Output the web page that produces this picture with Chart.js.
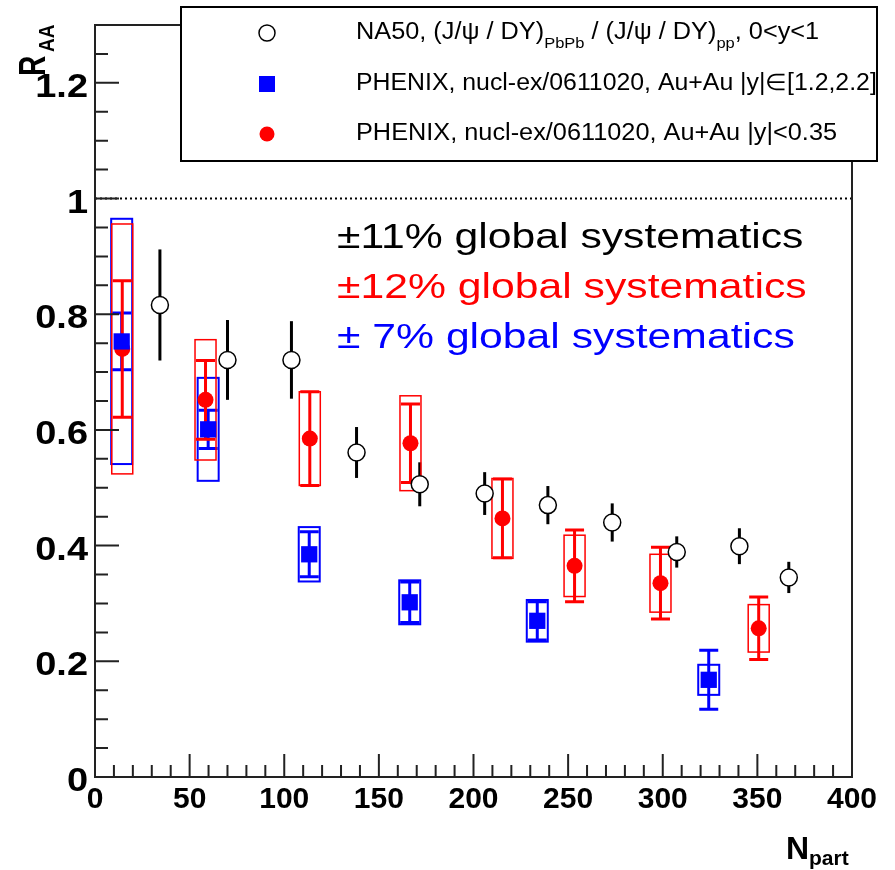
<!DOCTYPE html>
<html>
<head>
<meta charset="utf-8">
<script src="https://cdn.jsdelivr.net/npm/chart.js@4.4.0/dist/chart.umd.min.js"></script>
<style>
  html, body { margin: 0; padding: 0; background: #fff; }
</style>
</head>
<body>
<canvas id="raaChart" width="895" height="870"></canvas>
<script>
// NA50 (J/psi / DY) PbPb / pp, 0<y<1 -- open black circles
var na50Npart = [34.3, 70.0, 103.8, 138.2, 171.6, 205.9, 239.3, 273.3, 307.4, 340.5, 366.6];
var na50Raa = [0.816, 0.721, 0.721, 0.561, 0.506, 0.490, 0.470, 0.440, 0.389, 0.399, 0.345];
var na50Err = [0.096, 0.069, 0.067, 0.044, 0.038, 0.037, 0.033, 0.033, 0.027, 0.031, 0.027];

// PHENIX Au+Au |y| in [1.2,2.2] -- blue squares
var fwdNpart = [14.1, 59.8, 113.2, 166.3, 233.7, 324.3];
var fwdRaa = [0.753, 0.601, 0.385, 0.302, 0.270, 0.168];
var fwdStat = [0.049, 0.033, 0.039, 0.035, 0.033, 0.051];
var fwdSys = [0.212, 0.089, 0.047, 0.038, 0.036, 0.026];

// PHENIX Au+Au |y|<0.35 -- red circles
var midNpart = [14.4, 58.4, 113.5, 166.7, 215.3, 253.4, 298.8, 350.7];
var midRaa = [0.740, 0.652, 0.585, 0.577, 0.447, 0.365, 0.335, 0.257];
var midStat = [0.118, 0.068, 0.081, 0.068, 0.068, 0.062, 0.062, 0.054];
var midSys = [0.216, 0.104, 0.081, 0.082, 0.069, 0.053, 0.050, 0.041];

var xTickLabels = ['0', '50', '100', '150', '200', '250', '300', '350', '400'];
var yTickLabels = ['0', '0.2', '0.4', '0.6', '0.8', '1', '1.2'];

var globalSysLabels = ['\u00b111% global systematics', '\u00b112% global systematics', '\u00b1 7% global systematics'];
var globalSysColors = ['#000000', '#ff0000', '#0000ff'];

var FONT = '"Liberation Sans", Arial, Helvetica, sans-serif';
Chart.defaults.font.family = FONT;

function toPoints(xs, ys) {
    return xs.map(function (x, i) { return { x: x, y: ys[i] }; });
}

// legend rows: pieces of text, sub = subscript
var legendRows = [
    { color: '#000000', marker: 'open', sx: 1.1, parts: [
        { t: 'NA50, (J/\u03c8 / DY)' }, { t: 'PbPb', sub: true },
        { t: ' / (J/\u03c8 / DY)' }, { t: 'pp', sub: true }, { t: ', 0<y<1' }] },
    { color: '#0000ff', marker: 'square', sx: 1.08, parts: [{ t: 'PHENIX, nucl-ex/0611020, Au+Au |y|\u2208[1.2,2.2]' }] },
    { color: '#ff0000', marker: 'dot', sx: 1.1, parts: [{ t: 'PHENIX, nucl-ex/0611020, Au+Au |y|<0.35' }] }
];

function drawRich(ctx, parts, x, y, size, subSize, subDrop, scaleX) {
    ctx.save();
    ctx.translate(x, y);
    ctx.scale(scaleX, 1);
    ctx.textBaseline = 'alphabetic';
    var cx = 0;
    parts.forEach(function (p) {
        ctx.font = (p.sub ? subSize : size) + 'px ' + FONT;
        ctx.fillText(p.t, cx, p.sub ? subDrop : 0);
        cx += ctx.measureText(p.t).width;
    });
    ctx.restore();
}

// systematic boxes + stat error bars, drawn under the markers
var errorBars = {
    id: 'errorBars',
    beforeDatasetsDraw: function (chart) {
        var ctx = chart.ctx, xs = chart.scales.x, ys = chart.scales.y, area = chart.chartArea;

        // dotted line at R_AA = 1
        ctx.save();
        ctx.strokeStyle = '#000';
        ctx.lineWidth = 2;
        ctx.setLineDash([2, 3]);
        var y1 = ys.getPixelForValue(1);
        ctx.beginPath();
        ctx.moveTo(area.left, y1);
        ctx.lineTo(area.right, y1);
        ctx.stroke();
        ctx.restore();

        chart.data.datasets.forEach(function (ds) {
            ds.data.forEach(function (p, i) {
                var px = xs.getPixelForValue(p.x);
                ctx.save();
                ctx.strokeStyle = ds.borderColor;
                if (ds.sysErr) {
                    var top = ys.getPixelForValue(p.y + ds.sysErr[i]);
                    var bot = ys.getPixelForValue(p.y - ds.sysErr[i]);
                    ctx.lineWidth = ds.boxWidth;
                    ctx.strokeRect(px - 10.5, top, 21, bot - top);
                }
                var t = ys.getPixelForValue(p.y + ds.statErr[i]);
                var b = ys.getPixelForValue(p.y - ds.statErr[i]);
                ctx.lineWidth = 3;
                ctx.beginPath();
                ctx.moveTo(px, t);
                ctx.lineTo(px, b);
                if (ds.caps) {
                    ctx.moveTo(px - 9.5, t); ctx.lineTo(px + 9.5, t);
                    ctx.moveTo(px - 9.5, b); ctx.lineTo(px + 9.5, b);
                }
                ctx.stroke();
                ctx.restore();
            });
        });
    },
    afterDraw: function (chart) {
        var ctx = chart.ctx, xs = chart.scales.x, ys = chart.scales.y, area = chart.chartArea;
        ctx.save();

        // frame
        ctx.strokeStyle = '#222';
        ctx.lineWidth = 2;
        ctx.strokeRect(area.left, area.top, area.right - area.left, area.bottom - area.top);

        // inner ticks
        ctx.beginPath();
        for (var k = 0; k <= 26; k++) {
            var py = ys.getPixelForValue(k * 0.05);
            ctx.moveTo(area.left, py);
            ctx.lineTo(area.left + (k % 4 === 0 ? 24 : 13), py);
        }
        for (var j = 0; j <= 40; j++) {
            var px = xs.getPixelForValue(j * 10);
            ctx.moveTo(px, area.bottom);
            ctx.lineTo(px, area.bottom - (j % 5 === 0 ? 23 : 12));
        }
        ctx.stroke();

        // y tick labels, from the scale's own ticks
        ctx.fillStyle = '#000';
        ctx.textAlign = 'right';
        ys.ticks.forEach(function (tk, i) {
            var py = ys.getPixelForValue(tk.value);
            ctx.save();
            ctx.translate(area.left - 7, py + 14);
            ctx.scale(1.15, 1);
            ctx.font = 'bold 33px ' + FONT;
            ctx.fillText(yTickLabels[i], 0, 0);
            ctx.restore();
        });
        ctx.textAlign = 'left';

        // legend box
        ctx.fillStyle = '#fff';
        ctx.fillRect(181, 7, 696, 154);
        ctx.strokeStyle = '#000';
        ctx.lineWidth = 2;
        ctx.strokeRect(181, 7, 696, 154);

        var rowY = [33, 84, 134];
        legendRows.forEach(function (row, r) {
            var cy = rowY[r];
            ctx.fillStyle = row.color;
            ctx.strokeStyle = row.color;
            if (row.marker === 'open') {
                ctx.fillStyle = '#fff';
                ctx.lineWidth = 1.5;
                ctx.beginPath();
                ctx.arc(267, cy, 8, 0, Math.PI * 2);
                ctx.fill();
                ctx.stroke();
            } else if (row.marker === 'square') {
                ctx.fillRect(259, cy - 8, 16, 16);
            } else {
                ctx.beginPath();
                ctx.arc(267, cy, 7.5, 0, Math.PI * 2);
                ctx.fill();
            }
            ctx.fillStyle = '#000';
            drawRich(ctx, row.parts, 356, cy + 6, 23, 15, 9, row.sx);
        });

        // global systematics notes
        globalSysLabels.forEach(function (txt, i) {
            ctx.fillStyle = globalSysColors[i];
            drawRich(ctx, [{ t: txt }], 337, 248 + i * 50, 35, 20, 0, 1.22);
        });

        // axis titles
        ctx.fillStyle = '#000';
        ctx.save();
        ctx.translate(45, 76);
        ctx.rotate(-Math.PI / 2);
        ctx.scale(1, 1.3);
        ctx.font = 'bold 28px ' + FONT;
        ctx.fillText('R', 0, 0);
        ctx.restore();
        ctx.save();
        ctx.translate(54, 52);
        ctx.rotate(-Math.PI / 2);
        ctx.scale(1, 1.2);
        ctx.font = 'bold 19px ' + FONT;
        ctx.fillText('AA', 0, 0);
        ctx.restore();

        ctx.font = 'bold 32px ' + FONT;
        ctx.fillText('N', 786, 859);
        ctx.font = 'bold 21px ' + FONT;
        ctx.fillText('part', 809, 865);

        ctx.restore();
    }
};

var ctxRaa = document.getElementById('raaChart').getContext('2d');
var raaChart = new Chart(ctxRaa, {
    type: 'scatter',
    data: {
        datasets: [{
            label: 'NA50',
            data: toPoints(na50Npart, na50Raa),
            statErr: na50Err,
            caps: false,
            pointStyle: 'circle',
            pointRadius: 8.5,
            pointBorderWidth: 1.5,
            borderColor: '#000000',
            backgroundColor: '#ffffff'
        }, {
            label: 'PHENIX |y| in [1.2,2.2]',
            data: toPoints(fwdNpart, fwdRaa),
            statErr: fwdStat,
            sysErr: fwdSys,
            boxWidth: 2,
            caps: true,
            pointStyle: 'rect',
            pointRadius: 11.5,
            pointBorderWidth: 0,
            borderColor: '#0000ff',
            backgroundColor: '#0000ff'
        }, {
            label: 'PHENIX |y|<0.35',
            data: toPoints(midNpart, midRaa),
            statErr: midStat,
            sysErr: midSys,
            boxWidth: 1.5,
            caps: true,
            pointStyle: 'circle',
            pointRadius: 8,
            pointBorderWidth: 0,
            borderColor: '#ff0000',
            backgroundColor: '#ff0000'
        }]
    },
    options: {
        responsive: false,
        animation: false,
        layout: { padding: { left: 0, right: 43, top: 25, bottom: 0 } },
        plugins: {
            legend: { display: false },
            tooltip: { enabled: false }
        },
        scales: {
            x: {
                type: 'linear',
                min: 0,
                max: 400,
                grid: { display: false, drawTicks: false },
                border: { display: false },
                ticks: {
                    stepSize: 50,
                    padding: 5,
                    color: '#000',
                    maxRotation: 0,
                    autoSkip: false,
                    font: { size: 30, weight: 'bold' },
                    callback: function (v, i) { return xTickLabels[i]; }
                },
                afterFit: function (s) { s.height = 93; }
            },
            y: {
                min: 0,
                max: 1.3,
                grid: { display: false, drawTicks: false },
                border: { display: false },
                ticks: {
                    display: false,
                    stepSize: 0.2,
                    includeBounds: false,
                    autoSkip: false
                },
                afterFit: function (s) { s.width = 95; }
            }
        }
    },
    plugins: [errorBars]
});
</script>
</body>
</html>
